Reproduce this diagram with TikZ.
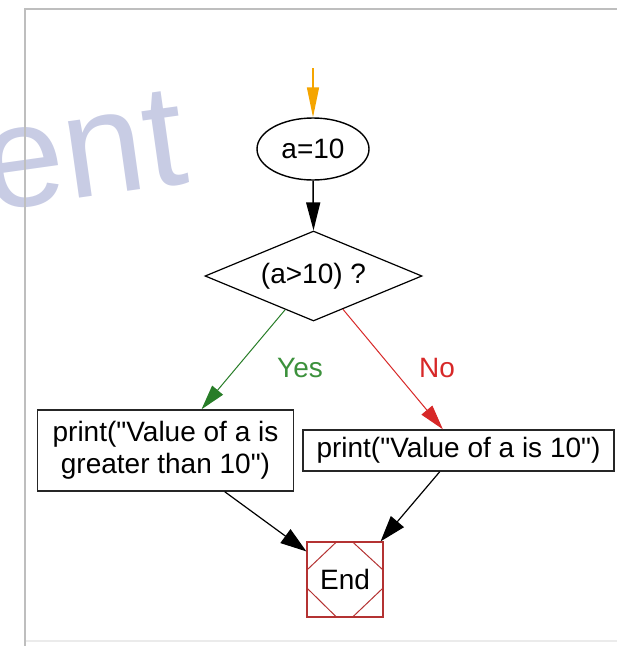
\documentclass[tikz,border=0pt]{standalone}
\usepackage{fontspec}
\setmainfont{Liberation Sans}[Ligatures=TeXOff]
\usetikzlibrary{shapes.geometric,arrows.meta,calc}
\definecolor{lav}{RGB}{200,204,228}
\definecolor{framegray}{RGB}{190,190,190}
\definecolor{orng}{RGB}{245,165,0}
\definecolor{grn}{RGB}{40,125,40}
\definecolor{grntxt}{RGB}{60,145,60}
\definecolor{rd}{RGB}{215,40,40}
\definecolor{endred}{RGB}{180,50,50}
\begin{document}
\begin{tikzpicture}[x=1pt,y=-1pt,
  lbl/.style={font=\fontsize{28}{32}\selectfont},
  box/.style={draw=black!85, line width=1.4pt, rectangle, inner sep=0pt, align=center, lbl},
  tipblack/.style={-{Triangle[length=28pt,width=14pt]}},
  tipend/.style={-{Triangle[length=26pt,width=17pt]}},
]
\useasboundingbox (0,0) rectangle (617,646);
\begin{scope}
\clip (0,0) rectangle (617,646);
\node[text=lav, font=\fontsize{146}{146}\selectfont, rotate=8, anchor=base, inner sep=0pt] (wm) at (90,197) {ent};
\end{scope}
\draw[framegray, line width=2.5pt] (25,646) -- (25,9) -- (617,9);
\draw[black!8, line width=1.5pt] (26,641) -- (617,641);

\coordinate (start) at (313,68);
\node[ellipse, draw, line width=1.4pt, minimum width=112pt, minimum height=62pt, inner sep=0pt, lbl] (a) at (313,149) {a=10};
\node[diamond, aspect=2.41, draw, line width=1.2pt, minimum width=217pt, minimum height=90pt, inner sep=0pt, lbl] (d) at (313.5,276) {(a>10) ?};
\node[box, minimum width=256pt, minimum height=81pt] (p1) at (165.5,450.5) {print("Value of a is\\greater than 10")};
\node[box, minimum width=311pt, minimum height=41pt] (p2) at (458.5,450.5) {print("Value of a is 10")};
\node[draw=endred, line width=1.2pt, rectangle, minimum width=76pt, minimum height=75pt, inner sep=0pt, lbl] (e) at (345,579.5) {End};
\draw[endred, line width=1pt] ($(e.north)+(-8,0)$) -- ($(e.west)+(0,-9)$);
\draw[endred, line width=1pt] ($(e.north)+(7,0)$) -- ($(e.east)+(0,-9)$);
\draw[endred, line width=1pt] ($(e.west)+(0,8)$) -- ($(e.south)+(-8,0)$);
\draw[endred, line width=1pt] ($(e.east)+(0,8)$) -- ($(e.south)+(7,0)$);

\node[lbl, text=grntxt] (yes) at (300,368) {Yes};
\node[lbl, text=rd] (no) at (437,368) {No};

\draw[orng, line width=1.5pt, -{Triangle[length=30pt,width=12pt]}] (start) -- (a.north);
\draw[black, line width=1.5pt, tipblack] (a.south) -- (d.north);
\draw[grn, line width=1pt, -{Triangle[length=25pt,width=14pt]}] ($(d.south)!0.26!(d.west)$) -- ($(p1.north west)!0.64!(p1.north east)$);
\draw[rd, line width=1pt, -{Triangle[length=25pt,width=14pt]}] ($(d.south)!0.27!(d.east)$) -- ($(p2.north west)!0.45!(p2.north east)$);
\draw[black, line width=1.2pt, tipend] ($(p1.south west)!0.73!(p1.south east)$) -- ($(e.north west)+(0,10)$);
\draw[black, line width=1.2pt, tipend] ($(p2.south west)!0.44!(p2.south east)$) -- ($(e.north east)+(-3,0)$);
\end{tikzpicture}
\end{document}
